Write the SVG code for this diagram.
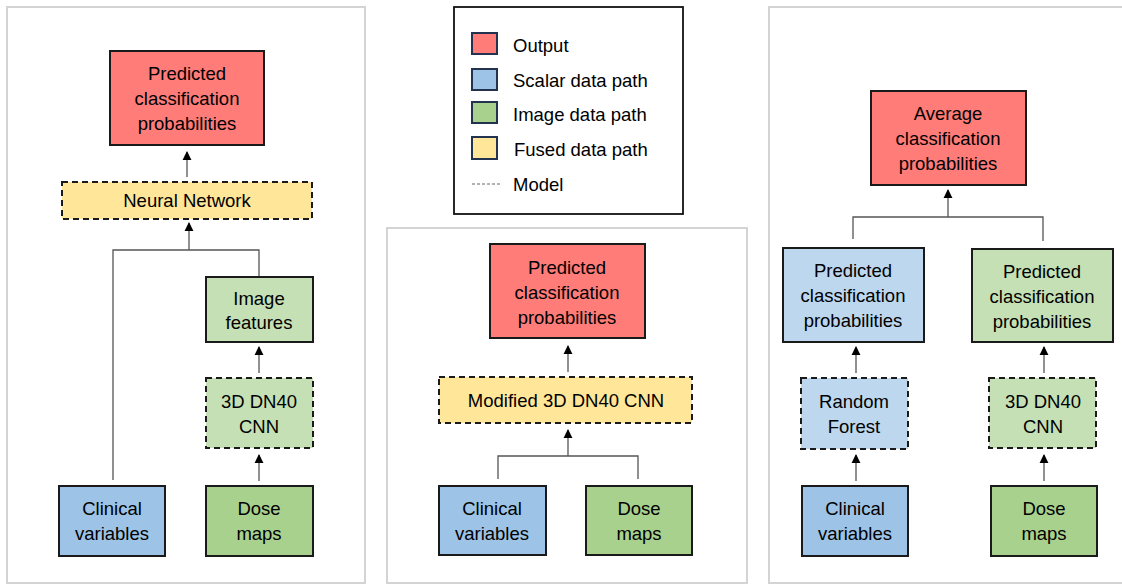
<svg xmlns="http://www.w3.org/2000/svg" width="1122" height="585" viewBox="0 0 1122 585">
  <style>
    text { font-family: "Liberation Sans", Arial, sans-serif; font-size: 18.5px; fill: #000; text-anchor: middle; dominant-baseline: central; }
    .legend text { text-anchor: start; }
    .panel { fill: #fff; stroke: #d4d4d4; stroke-width: 2; }
    .box { stroke: #1a1a1a; stroke-width: 2; }
    .model { stroke: #1a1a1a; stroke-width: 2; stroke-dasharray: 6 4; }
    .out { fill: #ff7c78; }
    .scalar { fill: #9dc3e6; }
    .scalar-lt { fill: #bdd7ee; }
    .image { fill: #a9d18e; }
    .image-lt { fill: #c5e0b4; }
    .fused { fill: #ffe699; }
    .key { stroke: #22324f; stroke-width: 2; }
    .link { fill: none; stroke: #555; stroke-width: 1.3; }
    .arrow { fill: none; stroke: #555; stroke-width: 1.3; marker-end: url(#tip); }
  </style>
  <defs>
    <marker id="tip" viewBox="0 0 10 10" refX="9" refY="5" markerWidth="9" markerHeight="10" markerUnits="userSpaceOnUse" orient="auto">
      <path d="M0,0 L10,5 L0,10 z" fill="#000"/>
    </marker>
  </defs>

  <rect width="1122" height="585" fill="#fff"/>

  <!-- panel frames -->
  <rect class="panel" x="7" y="7" width="358" height="576"/>
  <rect class="panel" x="387" y="228" width="360" height="355"/>
  <rect class="panel" x="769" y="7" width="360" height="576"/>

  <!-- legend -->
  <g id="legend" class="legend">
    <rect x="454" y="7" width="229" height="207" fill="#fff" stroke="#111" stroke-width="1.8"/>
    <rect class="key out" x="472" y="33" width="25" height="21"/>
    <text x="513" y="45">Output</text>
    <rect class="key scalar" x="472" y="69" width="25" height="21"/>
    <text x="513" y="80">Scalar data path</text>
    <rect class="key image" x="472" y="102" width="25" height="21"/>
    <text x="513" y="114">Image data path</text>
    <rect class="key fused" x="472" y="137" width="25" height="22"/>
    <text x="514" y="149">Fused data path</text>
    <line x1="472" y1="184" x2="500" y2="184" stroke="#666" stroke-width="1" stroke-dasharray="3 2"/>
    <text x="513" y="184">Model</text>
  </g>

  <!-- connectors -->
  <g id="connectors">
    <!-- left panel -->
    <line class="arrow" x1="187" y1="177" x2="187" y2="152"/>
    <polyline class="link" points="113,480 113,250 259,250 259,276"/>
    <line class="arrow" x1="189" y1="250" x2="189" y2="223"/>
    <line class="arrow" x1="259" y1="373" x2="259" y2="347"/>
    <line class="arrow" x1="259" y1="481" x2="259" y2="455"/>
    <!-- middle panel -->
    <line class="arrow" x1="568" y1="372" x2="568" y2="346"/>
    <polyline class="link" points="498,479 498,456 638,456 638,479"/>
    <line class="arrow" x1="568" y1="456" x2="568" y2="430"/>
    <!-- right panel -->
    <polyline class="link" points="853,239 853,217 1043,217 1043,241"/>
    <line class="arrow" x1="948" y1="217" x2="948" y2="190"/>
    <line class="arrow" x1="856" y1="373" x2="856" y2="347"/>
    <line class="arrow" x1="1044" y1="373" x2="1044" y2="347"/>
    <line class="arrow" x1="856" y1="481" x2="856" y2="455"/>
    <line class="arrow" x1="1044" y1="481" x2="1044" y2="455"/>
  </g>

  <!-- left panel: feature fusion -->
  <g id="l-output">
    <rect class="box out" x="110" y="51" width="154" height="94"/>
    <text x="187" y="73">Predicted</text>
    <text x="187" y="98">classification</text>
    <text x="187" y="123">probabilities</text>
  </g>
  <g id="l-nn">
    <rect class="model fused" x="62" y="182" width="250" height="37"/>
    <text x="187" y="200">Neural Network</text>
  </g>
  <g id="l-features">
    <rect class="box image-lt" x="206" y="277" width="107" height="65"/>
    <text x="259" y="298">Image</text>
    <text x="259" y="322">features</text>
  </g>
  <g id="l-cnn">
    <rect class="model image-lt" x="206" y="378" width="107" height="70"/>
    <text x="259" y="401">3D DN40</text>
    <text x="259" y="426">CNN</text>
  </g>
  <g id="l-clinical">
    <rect class="box scalar" x="59" y="486" width="106" height="70"/>
    <text x="112" y="508">Clinical</text>
    <text x="112" y="533">variables</text>
  </g>
  <g id="l-dose">
    <rect class="box image" x="206" y="486" width="107" height="70"/>
    <text x="259" y="508">Dose</text>
    <text x="259" y="533">maps</text>
  </g>

  <!-- middle panel: joint network -->
  <g id="m-output">
    <rect class="box out" x="490" y="244" width="155" height="94"/>
    <text x="567" y="267">Predicted</text>
    <text x="567" y="292">classification</text>
    <text x="567" y="317">probabilities</text>
  </g>
  <g id="m-cnn">
    <rect class="model fused" x="439" y="377" width="253" height="46"/>
    <text x="566" y="400">Modified 3D DN40 CNN</text>
  </g>
  <g id="m-clinical">
    <rect class="box scalar" x="439" y="486" width="107" height="69"/>
    <text x="492" y="508">Clinical</text>
    <text x="492" y="533">variables</text>
  </g>
  <g id="m-dose">
    <rect class="box image" x="586" y="486" width="106" height="69"/>
    <text x="639" y="508">Dose</text>
    <text x="639" y="533">maps</text>
  </g>

  <!-- right panel: late averaging -->
  <g id="r-average">
    <rect class="box out" x="871" y="91" width="155" height="94"/>
    <text x="948" y="113">Average</text>
    <text x="948" y="138">classification</text>
    <text x="948" y="163">probabilities</text>
  </g>
  <g id="r-pred-scalar">
    <rect class="box scalar-lt" x="783" y="248" width="141" height="94"/>
    <text x="853" y="270">Predicted</text>
    <text x="853" y="295">classification</text>
    <text x="853" y="320">probabilities</text>
  </g>
  <g id="r-pred-image">
    <rect class="box image-lt" x="972" y="249" width="141" height="93"/>
    <text x="1042" y="271">Predicted</text>
    <text x="1042" y="296">classification</text>
    <text x="1042" y="321">probabilities</text>
  </g>
  <g id="r-forest">
    <rect class="model scalar-lt" x="801" y="378" width="107" height="71"/>
    <text x="854" y="401">Random</text>
    <text x="854" y="426">Forest</text>
  </g>
  <g id="r-cnn">
    <rect class="model image-lt" x="989" y="378" width="107" height="70"/>
    <text x="1043" y="401">3D DN40</text>
    <text x="1043" y="426">CNN</text>
  </g>
  <g id="r-clinical">
    <rect class="box scalar" x="802" y="486" width="106" height="70"/>
    <text x="855" y="508">Clinical</text>
    <text x="855" y="533">variables</text>
  </g>
  <g id="r-dose">
    <rect class="box image" x="991" y="486" width="106" height="70"/>
    <text x="1044" y="508">Dose</text>
    <text x="1044" y="533">maps</text>
  </g>
</svg>
